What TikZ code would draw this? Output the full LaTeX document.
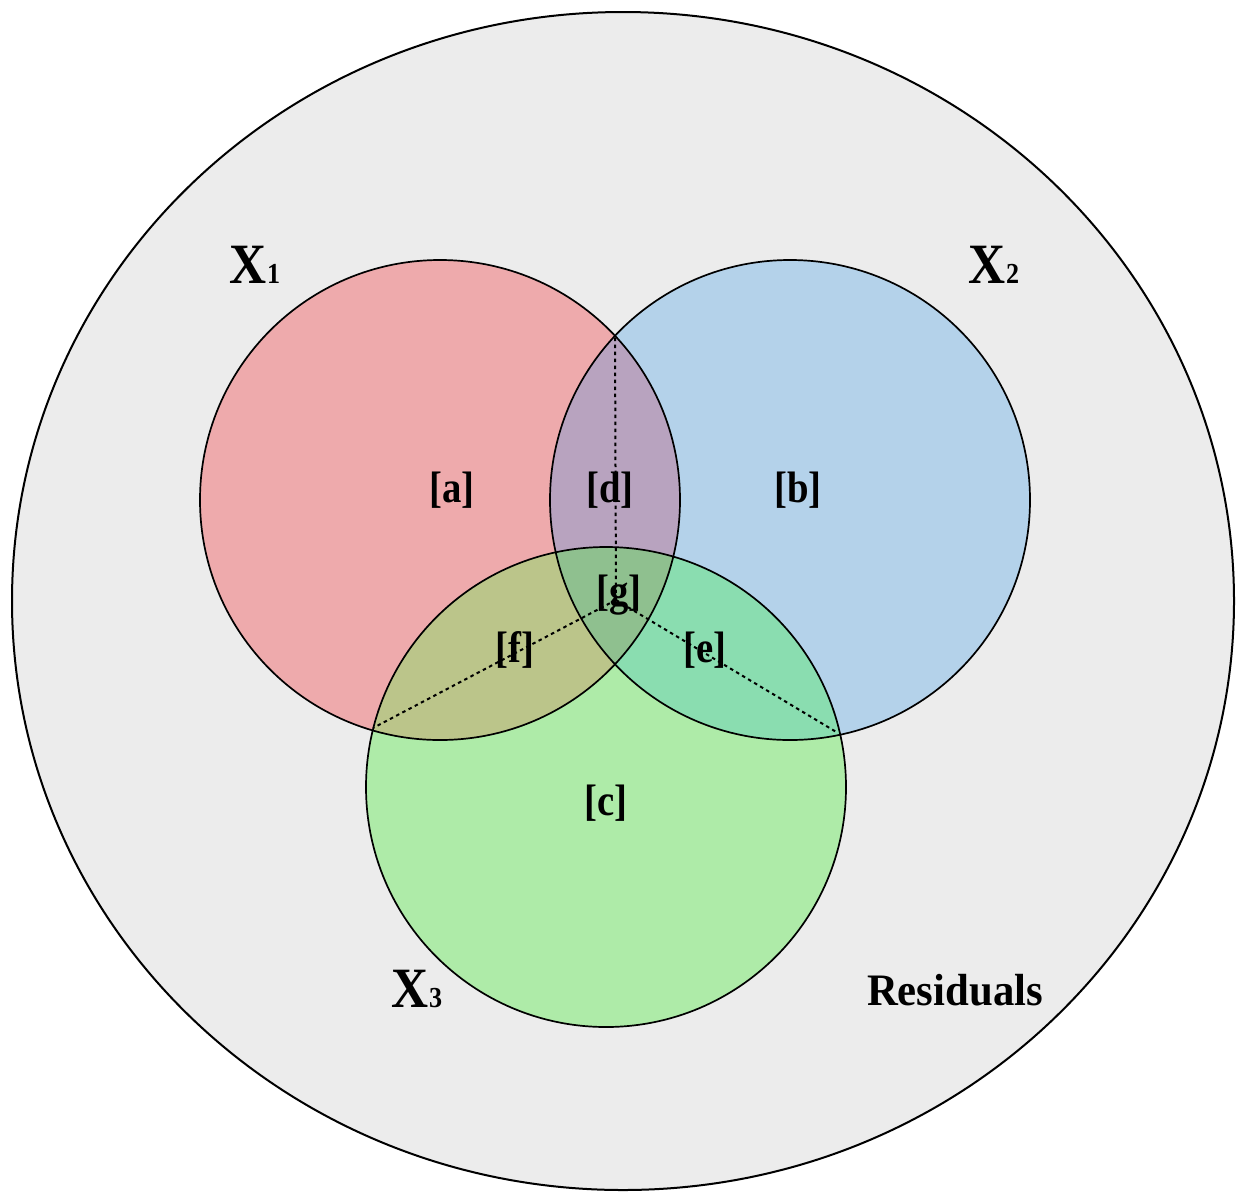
\documentclass[tikz,border=0pt]{standalone}
\usepackage{fontspec}
\setmainfont{Liberation Serif}
\definecolor{bgc}{HTML}{ECECEC}
\definecolor{redc}{HTML}{EEAAAC}
\definecolor{bluec}{HTML}{B4D2EA}
\definecolor{greenc}{HTML}{AEEBA8}
\definecolor{dcol}{HTML}{B8A3BF}
\definecolor{fcol}{HTML}{BBC58A}
\definecolor{ecol}{HTML}{8ADDB0}
\definecolor{gcol}{HTML}{8FC08F}
\tikzset{
  lbl/.style={font=\bfseries\fontsize{44}{44}\selectfont, inner sep=0pt, xscale=0.88},
  setlbl/.style={font=\bfseries\fontsize{57}{57}\selectfont, anchor=base, inner sep=0pt, xscale=0.9},
  resid/.style={font=\bfseries\fontsize{45}{45}\selectfont, anchor=base, inner sep=0pt, xscale=0.95},
  outline/.style={draw=black, line width=1.7pt},
  dotline/.style={draw=black, line width=2pt, dash pattern=on 3.5pt off 3.5pt}
}
\newcommand{\subdig}[1]{{\fontsize{29}{29}\selectfont #1}}
\begin{document}
\begin{tikzpicture}[x=1pt,y=-1pt]
\useasboundingbox (0,0) rectangle (1239,1195);
\fill[white] (0,0) rectangle (1239,1195);
\coordinate (U) at (623,601);
\coordinate (R) at (440,500);
\coordinate (B) at (790,500);
\coordinate (G) at (606,787);
\coordinate (O) at (616,600);
\coordinate (PRB) at (615,336);
\coordinate (PRG) at (373,728);
\coordinate (PBG) at (838,733);
% universe
\fill[bgc] (U) ellipse (611pt and 589pt);
% sets
\fill[redc] (R) circle (240pt);
\fill[bluec] (B) circle (240pt);
\fill[greenc] (G) circle (240pt);
\begin{scope}\clip (R) circle (240pt); \fill[dcol] (B) circle (240pt); \end{scope}
\begin{scope}\clip (R) circle (240pt); \fill[fcol] (G) circle (240pt); \end{scope}
\begin{scope}\clip (B) circle (240pt); \fill[ecol] (G) circle (240pt); \end{scope}
\begin{scope}\clip (R) circle (240pt); \clip (B) circle (240pt); \fill[gcol] (G) circle (240pt); \end{scope}
% outlines
\draw[outline] (R) circle (240pt);
\draw[outline] (B) circle (240pt);
\draw[outline] (G) circle (240pt);
\draw[draw=black, line width=2pt] (U) ellipse (611pt and 589pt);
% dotted connectors
\draw[dotline] (O) -- (PRB);
\draw[dotline] (O) -- (PRG);
\draw[dotline] (O) -- (PBG);
% region labels
\node[lbl] (a) at (452,490) {[a]};
\node[lbl] (d) at (610,490) {[d]};
\node[lbl] (b) at (798,490) {[b]};
\node[lbl] (g) at (619,595) {[g]};
\node[lbl] (f) at (515,650) {[f]};
\node[lbl] (e) at (705,650) {[e]};
\node[lbl] (c) at (606,803) {[c]};
% set labels
\node[setlbl] (x1) at (255,283) {X\subdig{1}};
\node[setlbl] (x2) at (994,283) {X\subdig{2}};
\node[setlbl] (x3) at (417,1007) {X\subdig{3}};
\node[resid] (res) at (955,1005) {Residuals};
\end{tikzpicture}
\end{document}
